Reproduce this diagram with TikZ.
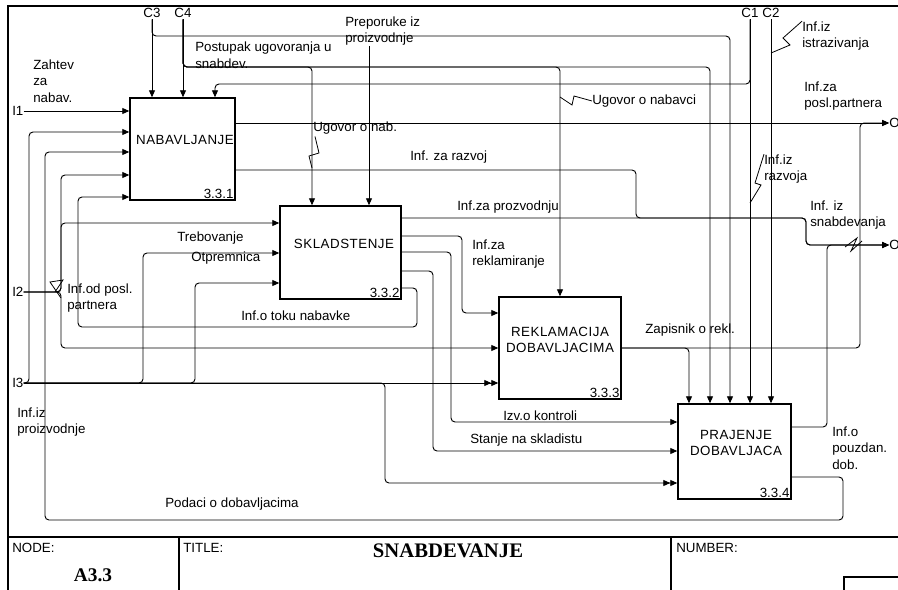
\documentclass[tikz,border=0pt]{standalone}
\usepackage{fontspec}
\setmainfont{Liberation Sans}
\newfontfamily\boxfont[LetterSpace=4]{Liberation Sans}
\newfontfamily\headfont{Liberation Serif}
\usetikzlibrary{arrows.meta}

\tikzset{
  flow/.style={line width=0.7pt, rounded corners=3pt, -{Triangle[length=5.25pt,width=4.5pt]}},
  dflow/.style={flow, -{Triangle[length=5.25pt,width=4.5pt]Triangle[length=5.25pt,width=4.5pt]}},
  squig/.style={line width=0.6pt},
  frame/.style={line width=0.8pt},
  box/.style={draw, line width=1.1pt, inner sep=0pt},
  lbl/.style={font=\fontsize{10}{12.5}\selectfont, inner sep=0pt, align=left, anchor=west},
  bname/.style={font=\boxfont\fontsize{10}{12.5}\selectfont, inner sep=0pt, align=center},
  bnum/.style={font=\fontsize{10}{12}\selectfont, inner sep=1.5pt, anchor=south east},
}

\begin{document}
\begin{tikzpicture}[x=0.75pt, y=-0.75pt]

\useasboundingbox (0,0) rectangle (898,589);

%frame and title block:
\draw[frame] (8,600) -- (8,6) -- (910,6);
\draw[frame] (8,537) -- (910,537);
\draw[frame] (179,537) -- (179,600);
\draw[frame] (671,537) -- (671,600);
\draw[frame] (844,600) -- (844,577) -- (910,577);
\node[lbl] (node) at (12,548) {NODE:};
\node[lbl] (title) at (183,548) {TITLE:};
\node[lbl] (number) at (676,548) {NUMBER:};
\node[font=\headfont\bfseries\fontsize{15.5}{18}\selectfont] (name) at (448,551) {SNABDEVANJE};
\node[font=\headfont\bfseries\fontsize{14.5}{17}\selectfont] (nodeno) at (93,575) {A3.3};

%boxes:
\node[box, minimum width=105*0.75pt, minimum height=102*0.75pt] (nab) at (182.5,149) {};
\node[box, minimum width=121*0.75pt, minimum height=93*0.75pt] (skl) at (340.5,252.5) {};
\node[box, minimum width=122*0.75pt, minimum height=102*0.75pt] (rek) at (560,348) {};
\node[box, minimum width=113*0.75pt, minimum height=95*0.75pt] (pra) at (734.5,451.5) {};
\node[bname] (nabt) at (185,140) {NABAVLJANJE};
\node[bname] (sklt) at (344,244) {SKLADSTENJE};
\node[bname] (rekt) at (560,340) {REKLAMACIJA\\DOBAVLJACIMA};
\node[bname] (prat) at (736,443) {PRAJENJE\\DOBAVLJACA};
\node[bnum] (nabn) at (nab.south east) {3.3.1};
\node[bnum] (skln) at (skl.south east) {3.3.2};
\node[bnum] (rekn) at (rek.south east) {3.3.3};
\node[bnum] (pran) at (pra.south east) {3.3.4};

%boundary labels:
\node[lbl] (i1) at (12,111) {I1};
\node[lbl] (i2) at (12,292) {I2};
\node[lbl] (i3) at (12,383) {I3};
\node[lbl, anchor=center, inner sep=1pt] (c3) at (152,13) {C3};
\node[lbl, anchor=center, inner sep=1pt] (c4) at (183,13) {C4};
\node[lbl, anchor=center, inner sep=1pt] (c1) at (750,13) {C1};
\node[lbl, anchor=center, inner sep=1pt] (c2) at (771,13) {C2};
\node[lbl] (o1) at (889,123) {O1};
\node[lbl] (o2) at (889,245) {O2};

%arrow labels:
\node[lbl] (zahtev) at (33,81) {Zahtev\\za\\nabav.};
\node[lbl] (postupak) at (195,55) {Postupak ugovoranja u\\snabdev.};
\node[lbl] (prep) at (345,31) {Preporuke iz\\proizvodnje};
\node[lbl] (ugnab) at (313,128) {Ugovor o nab.};
\node[lbl] (razvoj) at (410,157) {Inf. za razvoj};
\node[lbl] (ugnabavci) at (592,101) {Ugovor o nabavci};
\node[lbl] (istraz) at (802,36) {Inf.iz\\istrazivanja};
\node[lbl] (partnera) at (804,96) {Inf.za\\posl.partnera};
\node[lbl] (izrazvoja) at (764,169) {Inf.iz\\razvoja};
\node[lbl] (prozv) at (457,207) {Inf.za prozvodnju};
\node[lbl] (izsnab) at (810,215) {Inf. iz\\snabdevanja};
\node[lbl] (treb) at (177,238) {Trebovanje};
\node[lbl] (otpr) at (191,258) {Otpremnica};
\node[lbl] (odposl) at (67,298) {Inf.od posl.\\partnera};
\node[lbl] (rekl) at (472,254) {Inf.za\\reklamiranje};
\node[lbl] (toku) at (241,316) {Inf.o toku nabavke};
\node[lbl] (zapis) at (645,330) {Zapisnik o rekl.};
\node[lbl] (kontr) at (503,416) {Izv.o kontroli};
\node[lbl] (stanje) at (470,440) {Stanje na skladistu};
\node[lbl] (pouzd) at (832,448) {Inf.o\\pouzdan.\\dob.};
\node[lbl] (izproizv) at (17,422) {Inf.iz\\proizvodnje};
\node[lbl] (podaci) at (165,504) {Podaci o dobavljacima};

%inputs:
\draw[flow] (i1.east) -- (nab.west |- i1.east);
\draw[flow] (i2.east) -| (61,175) -- (nab.west |- 0,175);
\draw[flow] (i2.east) -| (61,223) -- (skl.west |- 0,223);
\draw[flow] (i2.east) -| (61,348) -- (rek.west |- 0,348);
\draw[flow] (i3.east) -| (29,132) -- (nab.west |- 0,132);
\draw[flow] (i3.east) -| (143,253) -- (skl.west |- 0,253);
\draw[flow] (i3.east) -| (195,283) -- (skl.west |- 0,283);
\draw[dflow] (i3.east) -- (rek.west |- 0,383);
\draw[dflow] (i3.east) -| (385,483) -- (pra.west |- 0,483);

%controls:
\draw[flow] (c3.south) -- (c3.south |- nab.north);
\draw[flow] (c3.south) |- (730,36) -- (pra.north -| 730,0);
\draw[flow] (c4.south) -- (c4.south |- nab.north);
\draw[flow] (c4.south) |- (312,67) -- (skl.north -| 312,0);
\draw[flow] (c4.south) |- (560,67) -- (rek.north -| 560,0);
\draw[flow] (c4.south) |- (710,67) -- (pra.north -| 710,0);
\draw[flow] (c1.south) -- (c1.south |- pra.north);
\draw[flow] (c1.south) |- (215,84) -- (nab.north -| 215,0);
\draw[flow] (c2.south) -- (c2.south |- pra.north);
\draw[flow] (prep.south -| 369,0) -- (skl.north -| 369,0);

%outputs of 3.3.1
\draw[flow] (nab.east |- 0,123) -- (o1.west);
\draw[flow] (nab.east |- 0,170) -| (636,218) -| (806,245) -- (o2.west);

%outputs of 3.3.2
\draw[flow] (skl.east |- 0,218) -| (806,245) -- (o2.west);
\draw[flow] (skl.east |- 0,236) -| (462,313) -- (rek.west |- 0,313);
\draw[flow] (skl.east |- 0,252) -| (451,422) -- (pra.west |- 0,422);
\draw[flow] (skl.east |- 0,271) -| (433,451) -- (pra.west |- 0,451);
\draw[flow] (skl.east |- 0,288) -| (417,327) -| (78,197) -- (nab.west |- 0,197);

%outputs of 3.3.3
\draw[flow] (rek.east |- 0,348) -| (pra.north -| 689,0);
\draw[flow] (rek.east |- 0,348) -| (860,123) -- (o1.west);

%outputs of 3.3.4
\draw[flow] (pra.east |- 0,427) -| (827,245) -- (o2.west);
\draw[flow] (pra.east |- 0,477) -| (843,520) -| (45,152) -- (nab.west |- 0,152);

%squiggles
\draw[squig] (ugnab.south west) ++(2,2) -- (319,153) -- (309,156) -- (312,168);
\draw[squig] (560,97) -- (572,105) -- (574,96) -- (ugnabavci.west);
\draw[squig] (771,53) -- (790,45) -- (783,38) -- (istraz.north west);
\draw[squig] (750,203) -- (761,185) -- (755,183) -- (izrazvoja.north west);
\draw[squig] (845,247) -- (857,238) -- (851,251) -- (862,241);
\draw[squig] (61,298) -- (50,282) -- (63,280) -- (55,292);

\end{tikzpicture}
\end{document}
